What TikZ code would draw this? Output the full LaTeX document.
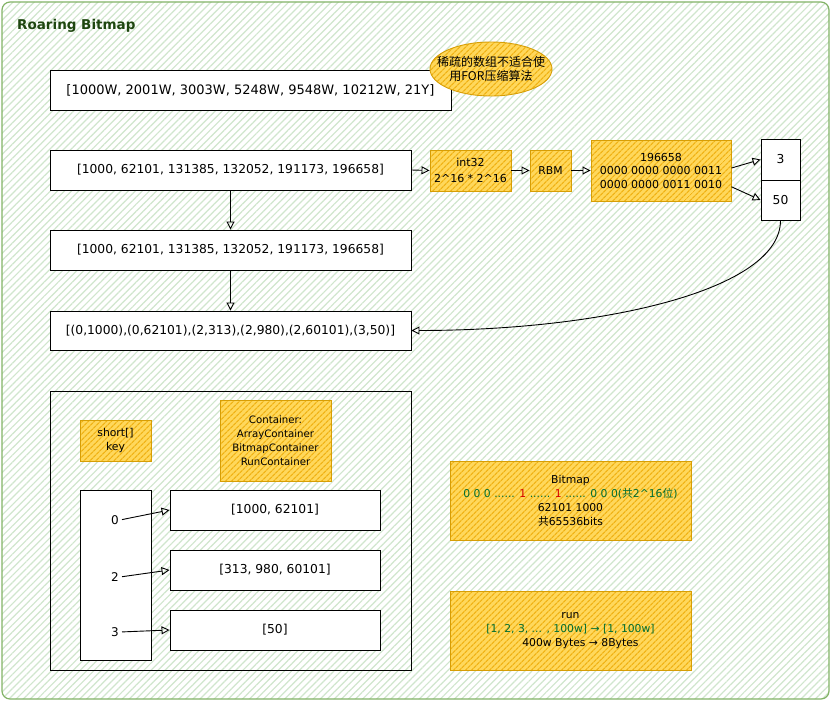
\documentclass[tikz,border=0pt]{standalone}
\usepackage{fontspec}
\setmainfont{DejaVu Sans}
\newfontfamily\cjk{Noto Sans CJK SC}
\usepackage{xcolor}
\usetikzlibrary{arrows.meta}
\usetikzlibrary{shapes.geometric}
\usetikzlibrary{patterns.meta}

\definecolor{bgline}{RGB}{208,230,205}
\definecolor{bgedge}{RGB}{130,179,102}
\definecolor{titlegreen}{RGB}{30,70,15}
\definecolor{yfill}{RGB}{255,216,92}
\definecolor{yline}{RGB}{240,178,20}
\definecolor{yedge}{RGB}{215,158,5}
\definecolor{bitgreen}{RGB}{0,110,50}
\definecolor{bitred}{RGB}{215,0,0}

\begin{document}
\begin{tikzpicture}[x=1pt,y=-1pt]
\tikzset{>={Triangle[open,width=8pt,length=8pt]}}
\tikzset{
  wbox/.style={draw,fill=white,line width=0.9pt,inner sep=0pt,font=\fontsize{12.3}{14}\selectfont},
  ybox/.style={draw=yedge,line width=0.9pt,preaction={fill=yfill},pattern={Lines[angle=45,distance=4pt,line width=1.3pt]},pattern color=yline,inner sep=0pt,align=center,font=\fontsize{10.8}{14}\selectfont},
  keylabel/.style={inner sep=1pt,font=\fontsize{12}{14}\selectfont},
  link/.style={->,line width=0.9pt}
}

\useasboundingbox (0,0) rectangle (831,701);
\path[preaction={fill=white},pattern={Lines[angle=45,distance=5pt,line width=1.2pt]},pattern color=bgline,draw=bgedge,line width=1.2pt,rounded corners=8pt] (2,2) rectangle (829,699);

\node[anchor=west,inner sep=0pt,font=\bfseries\fontsize{13.5}{16}\selectfont,text=titlegreen] (title) at (17,26) {Roaring Bitmap};

% input values
\node[wbox,minimum width=401pt,minimum height=40pt,font=\fontsize{13}{15}\selectfont] (raw) at (250.5,90) {[1000W, 2001W, 3003W, 5248W, 9548W, 10212W, 21Y]};
\node[ybox,ellipse,minimum width=122pt,minimum height=54pt,font=\cjk\fontsize{12}{13.5}\selectfont] (sparse) at (491,69) {\makebox[60pt]{稀疏的数组不适合使}\\\makebox[60pt]{用FOR压缩算法}};

\node[wbox,minimum width=361pt,minimum height=40pt] (ints) at (230.5,170) {[1000, 62101, 131385, 132052, 191173, 196658]};
\node[wbox,minimum width=361pt,minimum height=40pt] (sorted) at (230.5,250) {[1000, 62101, 131385, 132052, 191173, 196658]};
\node[wbox,minimum width=361pt,minimum height=39pt] (pairs) at (230.5,330.5) {[(0,1000),(0,62101),(2,313),(2,980),(2,60101),(3,50)]};

% split of one value
\node[ybox,minimum width=81pt,minimum height=41pt,font=\fontsize{11}{16}\selectfont] (split) at (470.5,170.5) {int32\\2\textasciicircum16 * 2\textasciicircum16};
\node[ybox,minimum width=41pt,minimum height=41pt] (rbm) at (550.5,170.5) {RBM};
\node[ybox,minimum width=140pt,minimum height=61pt,font=\fontsize{11}{13.5}\selectfont] (bits) at (661,170.5) {196658\\0000 0000 0000 0011\\0000 0000 0011 0010};
\node[wbox,minimum width=39pt,minimum height=41pt] (hk) at (780.5,159.5) {3};
\node[wbox,minimum width=39pt,minimum height=40pt] (lk) at (780.5,200) {50};

\draw[link] (ints.south) to (sorted.north);
\draw[link] (sorted.south) to (pairs.north);
\draw[link] (ints.east) to (split.west);
\draw[link] (split) to (rbm);
\draw[link] (rbm) to (bits);
\draw[link] (bits.2) to (hk.west);
\draw[link] (bits.-13) to (lk.west);
\draw[link] (lk.south) .. controls +(0,70) and +(190,0) .. (pairs.east);

% storage layout
\node[draw,line width=0.9pt,minimum width=361pt,minimum height=279pt] (store) at (230.5,530.5) {};
\node[ybox,minimum width=71pt,minimum height=41pt] (keytype) at (115.5,440.5) {short[]\\key};
\node[ybox,minimum width=111pt,minimum height=81pt,font=\fontsize{10.2}{14}\selectfont] (conttype) at (275.5,440.5) {Container:\\ArrayContainer\\BitmapContainer\\RunContainer};
\node[wbox,minimum width=71pt,minimum height=170pt] (keys) at (115.5,575) {};
\node[keylabel] (k0) at (115,520) {0};
\node[keylabel] (k2) at (115,577) {2};
\node[keylabel] (k3) at (115,632) {3};
\node[wbox,minimum width=210pt,minimum height=40pt] (c0) at (275,510) {[1000, 62101]};
\node[wbox,minimum width=210pt,minimum height=40pt] (c2) at (275,570) {[313, 980, 60101]};
\node[wbox,minimum width=210pt,minimum height=40pt] (c3) at (275,630) {[50]};

\draw[link,shorten <=2pt] (k0.east) to (c0.west);
\draw[link,shorten <=2pt] (k2.east) to (c2.west);
\draw[link,shorten <=2pt] (k3.east) to (c3.west);

% container kinds
\node[ybox,minimum width=241pt,minimum height=79pt] (bmp) at (570.5,501) {Bitmap\\
\textcolor{bitgreen}{0 0 0 ......} \textcolor{bitred}{1} \textcolor{bitgreen}{......} \textcolor{bitred}{1} \textcolor{bitgreen}{...... 0 0 0({\cjk 共}2\textasciicircum16{\cjk 位})}\\
62101 1000\hspace*{62pt}\\
{\cjk 共}65536bits};
\node[ybox,minimum width=241pt,minimum height=79pt] (runb) at (570.5,630.5) {run\\
\textcolor{bitgreen}{[1, 2, 3, ... , 100w] → [1, 100w]}\\
\hspace*{20pt}400w Bytes → 8Bytes};
\end{tikzpicture}
\end{document}
